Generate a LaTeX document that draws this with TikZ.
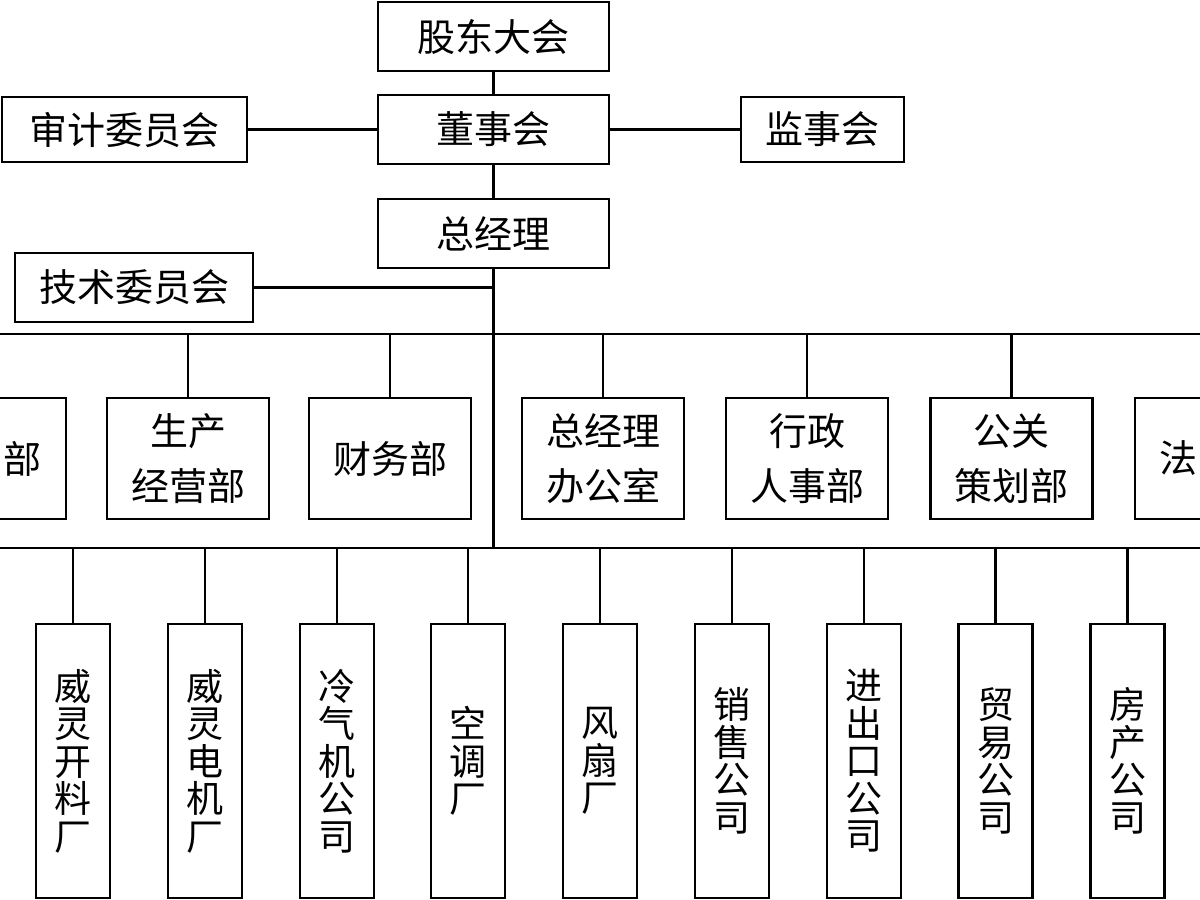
\documentclass[tikz,border=0pt]{standalone}
\usepackage{fontspec}
\setmainfont{Noto Sans CJK SC}
\begin{document}
\begin{tikzpicture}[x=1pt,y=-1pt,
  ln/.style={line width=2.5pt},
  boxc/.style={draw,line width=2.5pt,rectangle,inner sep=0pt,align=center,
    font=\fontsize{38}{55}\selectfont},
  topbox/.style={boxc,minimum width=231pt,minimum height=69pt},
  deptbox/.style={boxc,minimum width=162pt,minimum height=121pt},
  subbox/.style={boxc,minimum width=74pt,minimum height=274pt,
    font=\fontsize{37}{37.5}\selectfont}]
\useasboundingbox (0,0) rectangle (1200,900);
\clip (0,0) rectangle (1200,900);
\fill[white] (0,0) rectangle (1200,900);

% top levels
\node[topbox] (gd) at (493.5,36.5) {股东大会};
\node[topbox] (dsh) at (493.5,129.5) {董事会};
\node[boxc,minimum width=245pt,minimum height=65pt] (sj) at (124.5,129.5) {审计委员会};
\node[boxc,minimum width=163pt,minimum height=65pt] (jsh) at (822.5,129.5) {监事会};
\node[topbox] (zjl) at (493.5,233.5) {总经理};
\node[boxc,minimum width=238pt,minimum height=69pt] (jw) at (134,287.5) {技术委员会};

\draw[ln] (gd) -- (dsh);
\draw[ln] (sj) -- (dsh);
\draw[ln] (dsh) -- (jsh);
\draw[ln] (dsh) -- (zjl);

% bus coordinates
\coordinate (t2) at (493.5,548);
\coordinate (b1l) at (-10,334);
\coordinate (b1r) at (1210,334);
\coordinate (b2l) at (-10,548);
\coordinate (b2r) at (1210,548);
\coordinate (tj) at (493.5,287.5);

\draw[ln] (zjl.south) -- (t2);
\draw[ln] (jw.east) -- (tj);
\draw[ln] (b1l) -- (b1r);
\draw[ln] (b2l) -- (b2r);

% departments
\node[deptbox] (d0) at (-15,458.5) {\hphantom{部部}部};
\node[deptbox] (d1) at (188,458.5) {生产\\经营部};
\node[deptbox] (d2) at (390,458.5) {财务部};
\node[deptbox] (d3) at (603,458.5) {总经理\\办公室};
\node[deptbox] (d4) at (807,458.5) {行政\\人事部};
\node[deptbox] (d5) at (1011.5,458.5) {公关\\策划部};
\node[deptbox] (d6) at (1216,458.5) {法\hphantom{部部}};
\foreach \n in {d0,d1,d2,d3,d4,d5,d6}
  \draw[ln] (\n.north) -- (\n.north |- b1l);

% subsidiaries
\node[subbox] (s1) at (73,761) {威\\灵\\开\\料\\厂};
\node[subbox] (s2) at (205,761) {威\\灵\\电\\机\\厂};
\node[subbox] (s3) at (337,761) {冷\\气\\机\\公\\司};
\node[subbox] (s4) at (468,761) {空\\调\\厂};
\node[subbox] (s5) at (600,761) {风\\扇\\厂};
\node[subbox] (s6) at (732,761) {销\\售\\公\\司};
\node[subbox] (s7) at (864,761) {进\\出\\口\\公\\司};
\node[subbox] (s8) at (995.5,761) {贸\\易\\公\\司};
\node[subbox] (s9) at (1127.5,761) {房\\产\\公\\司};
\foreach \n in {s1,s2,s3,s4,s5,s6,s7,s8,s9}
  \draw[ln] (\n.north) -- (\n.north |- b2l);
\end{tikzpicture}
\end{document}
